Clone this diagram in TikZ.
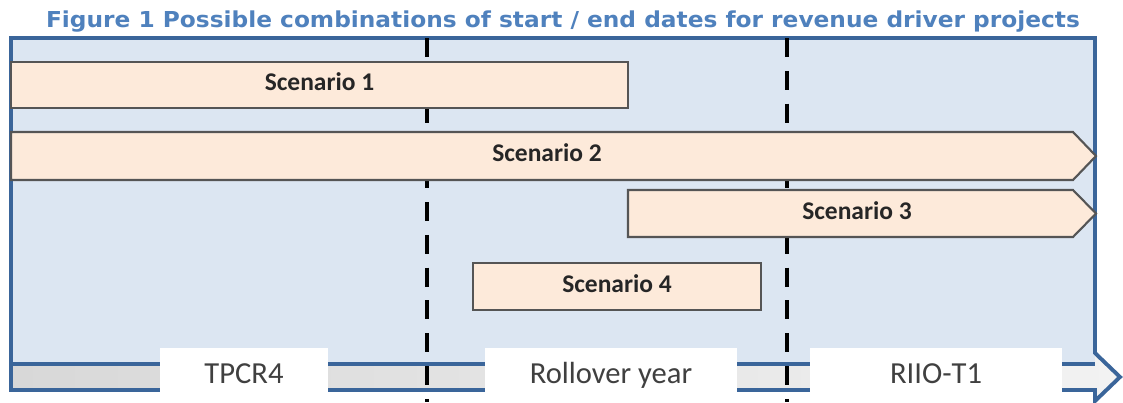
\documentclass[tikz,border=0pt]{standalone}
\usepackage{fontspec}
\setmainfont{Carlito}
\newfontfamily\titlefont{DejaVu Sans}[FakeStretch=1.06]
\definecolor{framefill}{HTML}{DCE6F2}
\definecolor{frameline}{HTML}{3A659A}
\definecolor{peach}{HTML}{FDEADA}
\definecolor{boxline}{HTML}{555555}
\definecolor{titleblue}{HTML}{4F81BD}
\definecolor{barleft}{HTML}{D8D8D8}
\definecolor{barright}{HTML}{F2F2F2}
\definecolor{labelgray}{HTML}{404040}

\begin{document}
\begin{tikzpicture}[
		blueline/.style={draw=frameline, line width=2.2pt},
		yearline/.style={draw=black, line width=1.9pt, dash pattern=on 0.38cm off 0.276cm},
		scenario/.style={draw=boxline, fill=peach, line width=1.2pt},
		scenlabel/.style={font=\fontsize{14.5}{16}\selectfont\bfseries, text=black!85, text height=1.38ex, text depth=0pt},
		period/.style={fill=white, minimum height=1.2cm, inner sep=0pt, font=\fontsize{17.4}{20}\selectfont, text=labelgray, text height=1.38ex, text depth=0pt}
	]
		\useasboundingbox (0,0) rectangle (22.46,8.04);
		
		%Title
		\node[anchor=base, text=titleblue, font=\titlefont\bfseries\fontsize{12.5}{15}\selectfont] (title) at (11.26,7.50) {Figure 1 Possible combinations of start / end dates for revenue driver projects};
		
		%Frame
		\fill[framefill] (0.22,0.76) rectangle (21.90,7.28);
		\shade[left color=barleft, right color=barright] (0.22,0.24)--(0.22,0.76)--(21.90,0.76)--(21.90,0.98)--(22.40,0.50)--(21.90,0.02)--(21.90,0.24)--cycle;
		\draw[blueline] (0.22,0.24)--(0.22,7.28)--(21.90,7.28)--(21.90,0.98)--(22.40,0.50)--(21.90,0.02)--(21.90,0.24)--cycle;
		\draw[blueline] (0.22,0.76)--(21.90,0.76);
		
		%Years
		\draw[yearline] (8.54,7.28)--(8.54,0);
		\draw[yearline] (15.74,7.28)--(15.74,0);
		
		%Scenarios
		\draw[scenario] (0.22,5.88) rectangle (12.56,6.80);
		\draw[scenario] (0.22,4.44)--(0.22,5.40)--(21.46,5.40)--(21.92,4.92)--(21.46,4.44)--cycle;
		\draw[scenario] (12.56,3.30)--(12.56,4.24)--(21.46,4.24)--(21.92,3.77)--(21.46,3.30)--cycle;
		\draw[scenario] (9.46,1.84) rectangle (15.22,2.78);
		\node[scenlabel] (sc1) at (6.39,6.34) {Scenario 1};
		\node[scenlabel] (sc2) at (10.94,4.92) {Scenario 2};
		\node[scenlabel] (sc3) at (17.14,3.77) {Scenario 3};
		\node[scenlabel] (sc4) at (12.34,2.31) {Scenario 4};
		
		%Periods
		\node[period, minimum width=3.36cm] (tpcr) at (4.88,0.48) {TPCR4};
		\node[period, minimum width=5.04cm] (roll) at (12.22,0.48) {Rollover year};
		\node[period, minimum width=5.04cm] (riio) at (18.72,0.48) {RIIO-T1};
	\end{tikzpicture}
\end{document}
